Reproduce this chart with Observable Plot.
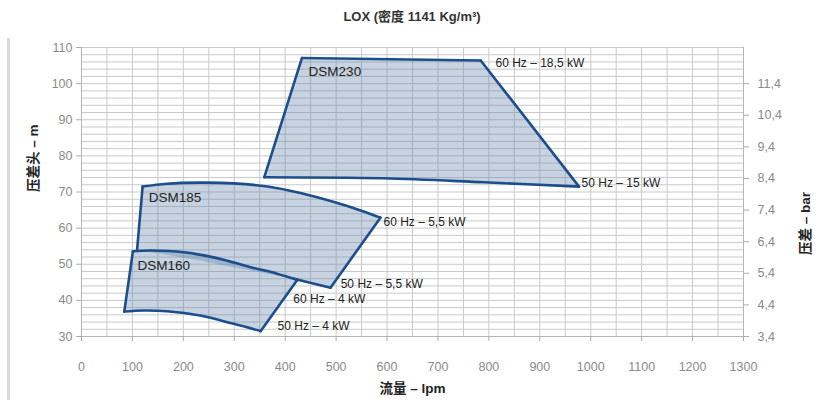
<!DOCTYPE html>
<html><head><meta charset="utf-8">
<script src="https://cdn.jsdelivr.net/npm/d3@7"></script>
<script src="https://cdn.jsdelivr.net/npm/@observablehq/plot@0.6"></script>
<style>
body{margin:0;background:#fff;font-family:"Liberation Sans",Arial,"Noto Sans CJK SC",sans-serif;}
#wrap{position:relative;width:824px;height:400px;overflow:hidden;}
#title{height:34px;line-height:34px;text-align:center;font-size:13px;font-weight:600;color:#333;font-family:"Liberation Sans",Arial,"Noto Sans CJK SC",sans-serif;}
#bar{position:absolute;left:7px;top:38px;width:3px;height:362px;background:#dcdcdc;}
</style></head>
<body><div id="wrap"><div id="bar"></div><div id="title">LOX (密度 1141 Kg/m³)</div><div id="chart"></div></div>
<script>
// ---- data ----
const xTicks = [0,100,200,300,400,500,600,700,800,900,1000,1100,1200,1300];
const yTicks = [30,40,50,60,70,80,90,100,110];
const barTicks = [3.4,4.4,5.4,6.4,7.4,8.4,9.4,10.4,11.4];
const mPerBar = 8.75;        // metres of head per bar on the right scale
const barBaseM = 30;         // 3,4 bar aligned with 30 m

// DSM230 outline (lpm, m)
const dsm230Q = [433, 784, 977, 789, 593, 359];
const dsm230H = [107.1, 106.4, 71.5, 72.7, 73.8, 74.1];
// DSM185 outline, starting on the lower edge
const dsm185Q = [417, 489, 587, 548, 496, 430, 365, 299, 234, 168, 120, 109, 168, 234, 299, 365];
const dsm185H = [46.0, 43.5, 62.9, 64.9, 67.2, 69.7, 71.5, 72.4, 72.6, 72.3, 71.5, 53.8, 52.6, 51.0, 49.2, 47.4];
// DSM160 outline
const dsm160Q = [101, 136, 201, 266, 332, 384, 424, 352, 299, 233, 168, 122, 84];
const dsm160H = [53.6, 53.8, 53.3, 51.7, 49.2, 47.4, 45.7, 31.5, 33.5, 35.8, 37.0, 37.2, 36.9];

// outline edges: [shape, from index, to index, curved]
const edgeShape = ["230","230","230","230","185","185","185","185","160","160","160","160"];
const edgeFrom  = [0, 1, 2, 5, 0, 1, 2, 10, 0, 6, 7, 12];
const edgeTo    = [1, 2, 5, 0, 1, 2, 10, 11, 6, 7, 12, 0];
const edgeCurved= [false,false,true,false,false,false,true,false,true,false,true,false];

// annotations
const labelText = ["DSM230","60 Hz – 18,5 kW","50 Hz – 15 kW","DSM185","60 Hz – 5,5 kW","DSM160","50 Hz – 5,5 kW","60 Hz – 4 kW","50 Hz – 4 kW"];
const labelQ = [446, 813, 982, 132, 593, 110, 509, 416, 385];
const labelH = [103.4, 105.6, 72.4, 68.5, 61.6, 49.7, 44.4, 40.2, 33.0];
const labelBig = [true,false,false,true,false,true,false,false,false];

// ---- build ----
const toPts = (Q,H) => Q.map((q,i)=>({q, h:H[i]}));
const shapes = {"230": toPts(dsm230Q, dsm230H), "185": toPts(dsm185Q, dsm185H), "160": toPts(dsm160Q, dsm160H)};
function edgePts(k) {
  const pts = shapes[edgeShape[k]], a = edgeFrom[k], b = edgeTo[k];
  const out = [];
  if (b > a) for (let i = a; i <= b; i++) out.push({...pts[i], e: k});
  else { out.push({...pts[a], e: k}); out.push({...pts[b], e: k}); }
  return out;
}
const straightEdges = edgeShape.flatMap((s,k) => edgeCurved[k] ? [] : edgePts(k));
const curvedEdges = edgeShape.flatMap((s,k) => edgeCurved[k] ? edgePts(k) : []);

const labels = labelText.map((t,i)=>({t, q:labelQ[i], h:labelH[i], big:labelBig[i]}));
const fmtBar = m => ((m - barBaseM)/mPerBar + 3.4).toFixed(1).replace(".", ",");
const rightTicks = barTicks.map(b => barBaseM + (b - 3.4)*mPerBar);

const fillC = "#5b7fa8", fillO = 0.34, strokeC = "#1c4e8c", sw = 2.6;
const gridC = "#c9c9c9";
const font = '"Liberation Sans", Arial, "Noto Sans CJK SC", sans-serif';
const lineOpts = {x: "q", y: "h", z: "e", stroke: strokeC, strokeWidth: sw, strokeLinecap: "round", strokeLinejoin: "round"};

const chart = Plot.plot({
  width: 824, height: 366,
  marginLeft: 81, marginRight: 81, marginTop: 13, marginBottom: 64,
  x: {domain: [0, 1300]},
  y: {domain: [30, 110]},
  style: {fontFamily: font, fontSize: "12.5px", background: "#fff", overflow: "visible"},
  marks: [
    Plot.gridX(d3.range(0, 1301, 50), {stroke: gridC, strokeOpacity: 1}),
    Plot.gridY(d3.range(30, 111, 2), {stroke: gridC, strokeOpacity: 1}),
    Plot.ruleY([30], {stroke: "#b5b5b5"}),
    Plot.ruleX([0, 1300], {stroke: "#b5b5b5"}),
    Plot.axisX(xTicks, {tickSize: 5, tickPadding: 21, stroke: "#aaa", fill: "#8a8a8a", label: null, tickFormat: d => String(d)}),
    Plot.axisY(yTicks, {anchor: "left", tickSize: 5, tickPadding: 4, stroke: "#aaa", fill: "#8a8a8a", label: null, tickFormat: d => String(d)}),
    Plot.axisY(rightTicks, {anchor: "right", tickSize: 5, tickPadding: 9, stroke: "#aaa", fill: "#8a8a8a", label: null, tickFormat: fmtBar}),
    // shape fills
    Plot.line(shapes["230"], {x: "q", y: "h", fill: fillC, fillOpacity: fillO, stroke: "none", curve: "linear"}),
    Plot.line(shapes["185"], {x: "q", y: "h", fill: fillC, fillOpacity: fillO, stroke: "none"}),
    Plot.line(shapes["160"], {x: "q", y: "h", fill: fillC, fillOpacity: fillO, stroke: "none"}),
    // outlines
    Plot.line(straightEdges, {...lineOpts, curve: "linear"}),
    Plot.line(curvedEdges, {...lineOpts, curve: "catmull-rom"}),
    // labels
    Plot.text(labels.filter(d=>d.big), {x: "q", y: "h", text: "t", textAnchor: "start", fill: "#222", fontSize: 13.5}),
    Plot.text(labels.filter(d=>!d.big), {x: "q", y: "h", text: "t", textAnchor: "start", fill: "#222", fontSize: 12}),
    // axis titles
    Plot.text(["流量 – lpm"], {frameAnchor: "bottom", dy: 56, fill: "#222", fontSize: 13.5, fontWeight: 600}),
    Plot.text(["压差头 – m"], {frameAnchor: "left", dx: -48, rotate: -90, fill: "#222", fontSize: 13.5, fontWeight: 600}),
    Plot.text(["压差 – bar"], {frameAnchor: "right", dx: 62, rotate: -90, fill: "#222", fontSize: 13.5, fontWeight: 600})
  ]
});
document.getElementById("chart").appendChild(chart);
</script>
</body></html>
